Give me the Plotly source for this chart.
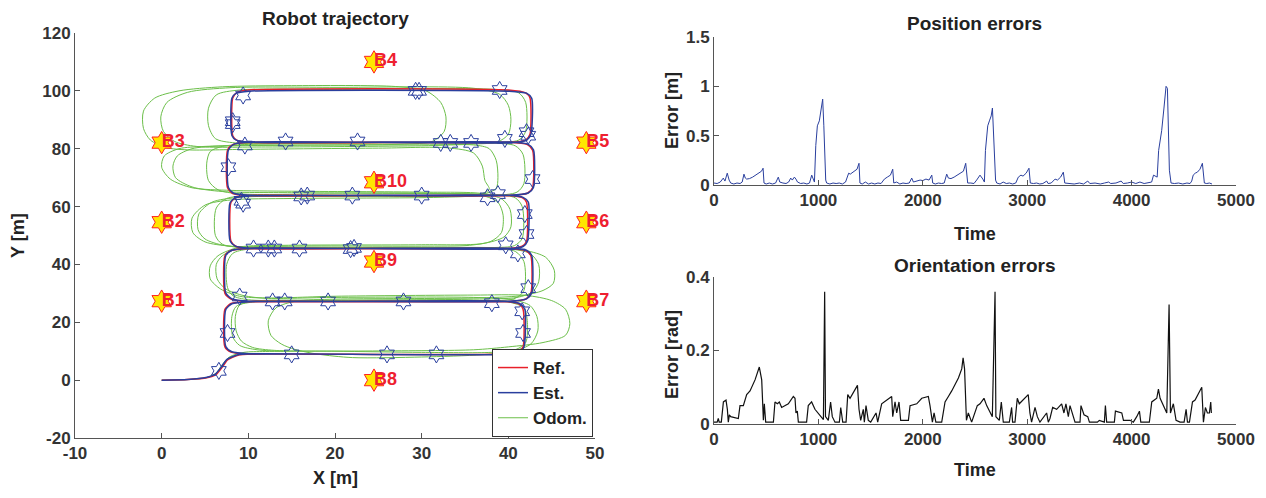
import plotly.graph_objects as go

# ---------------- data: trajectory ----------------
ref_x = [0, 3, 5.2, 6.3, 7, 7.6, 8.8, 10.5,
         39.5, 41.2, 41.7, 41.7, 41.2, 39.5,
         10, 8, 7.3, 7.3, 8, 10,
         40, 41.6, 42.1, 42.1, 41.6, 40,
         10, 8.2, 7.6, 7.6, 8.2, 10,
         40, 42, 42.5, 42.5, 42, 40,
         10, 8.7, 8.2, 8.2, 8.7, 10,
         40, 42.2, 42.8, 42.8, 42.2, 40,
         10, 8.6, 8, 8, 8.6, 10,
         40, 42, 42.6, 42.6, 42, 40,
         10, 8, 7.3, 7.3, 8, 10, 12]
ref_y = [0, 0.2, 0.8, 2, 4.5, 7, 8.6, 9,
         9, 9.8, 11.5, 24.5, 26.4, 27.2,
         27.2, 28, 30, 43, 44.8, 45.5,
         45.5, 46.3, 48, 61.5, 63.1, 63.8,
         63.8, 64.5, 66.5, 79.5, 81.4, 82.2,
         82.2, 83, 85, 97.5, 99.3, 100.3,
         100.3, 99.5, 97.5, 84.5, 82.9, 82.2,
         82.2, 81.4, 79.5, 66.5, 64.6, 63.8,
         63.8, 63.1, 61.5, 48, 46.2, 45.5,
         45.5, 44.8, 43, 30, 28, 27.2,
         27.2, 26.5, 24.5, 11.5, 9.7, 9, 9]

est_x = [0, 3, 5.1, 6.2, 6.9, 7.5, 8.7, 10.4,
         39.6, 41.3, 41.8, 41.9, 41.3, 39.6,
         10.1, 8.1, 7.4, 7.4, 8.1, 10.1,
         40.1, 41.7, 42.2, 42.3, 41.7, 40.1,
         10.1, 8.3, 7.7, 7.7, 8.3, 10.1,
         40.1, 42.1, 42.6, 42.7, 42.1, 40.1,
         10.1, 8.6, 8.1, 8.1, 8.6, 10.1,
         40.1, 42.3, 42.9, 42.9, 42.3, 40.1,
         10.1, 8.5, 7.9, 7.9, 8.5, 10.1,
         40.1, 42.1, 42.7, 42.7, 42.1, 40.1,
         10.1, 8.1, 7.4, 7.4, 8.1, 10.1, 12]
est_y = [0, 0.2, 0.9, 2.1, 4.6, 7.1, 8.7, 9.1,
         8.9, 9.7, 11.4, 24.6, 26.5, 27.3,
         27.3, 28.1, 30.1, 43.1, 44.9, 45.6,
         45.4, 46.2, 47.9, 61.6, 63.2, 63.9,
         63.9, 64.6, 66.6, 79.6, 81.5, 82.3,
         82.1, 82.9, 84.9, 97.4, 99.2, 99.9,
         99.9, 99.2, 97.4, 84.6, 83.0, 82.3,
         82.3, 81.5, 79.6, 66.6, 64.7, 63.9,
         63.7, 63.0, 61.4, 48.1, 46.3, 45.6,
         45.6, 44.9, 43.1, 30.1, 28.1, 27.3,
         27.1, 26.4, 24.4, 11.6, 9.8, 9.1, 9.1]

odom_x = [0, 3, 5.2, 6.3, 6.9, 7.8, 9.5, 12,
          25, 36, 40, 44, 46.6, 47.1, 46.6, 45, 42, 36, 20, 12,
          9, 6.8, 5.6, 5.6, 6.5, 9, 14, 30, 37,
          39.5, 40.3, 40.2, 39.3, 37, 30, 15, 8,
          3.5, 1, 0, 0.3, 2, 5, 15, 28,
          31.2, 32.6, 32.8, 32.2, 30.5, 27, 15, 7,
          2, -0.8, -2.1, -2.1, -1.3, 0.5, 3, 10, 25, 33,
          36, 37, 37.3, 37.8, 36.5, 32, 15, 8,
          5, 3.5, 3.6, 5, 8, 15, 30, 38,
          42, 44.3, 45.3, 45.2, 44, 41.5, 36, 20, 15.5,
          13.2, 12.3, 12.6, 13.8, 15.4, 18, 22, 30, 37,
          40.5, 42.6, 43.4, 43.3, 42.5, 40.5, 36, 20, 12,
          9.5, 7.4, 6.4, 6.3, 7, 9, 14, 30, 35.5,
          38, 39.2, 39.4, 38.8, 37, 32, 15, 7,
          3.5, 1.6, 1.3, 1.8, 3.5, 7, 20, 36,
          38.8, 40, 40.3, 40, 39, 36, 20, 8,
          3, 0.6, -0.1, 0.2, 1.5, 4, 12, 30, 36,
          37.8, 38.6, 38.8, 38.6, 37.3, 33, 20, 9,
          5.8, 4.3, 4.2, 5, 7.3, 12, 35, 40,
          42.5, 43.5, 43.5, 42.8, 41, 36, 20, 11,
          9, 8.5, 8.6, 9.2, 10.5, 13, 20, 30, 38,
          40.8, 42, 42.2, 41.8, 40, 35, 20, 10,
          8.2, 7.6, 7.5, 8.2, 10, 20, 38,
          40.7, 41.6, 41.6, 40.8, 38, 20, 9,
          6.5, 5.4, 5.2, 5.6, 7, 10, 25, 38,
          41.2, 42, 42, 41.2, 38.5, 20, 9,
          6.3, 5.4, 5.4, 6.2, 8.5, 20, 38,
          40.8, 41.7, 41.8, 41, 38, 20, 10,
          7.5, 6.3, 6.2, 7, 9.5, 20, 38,
          40.8, 41.8, 41.8, 40.8, 38, 20, 10.5,
          8.6, 8.1, 8.2, 9, 11, 14]
odom_y = [0, 0.2, 0.9, 2.5, 5, 8, 9.6, 9.9,
          10.1, 10.5, 11.5, 13, 15.5, 19.5, 24.5, 27.5, 29.3, 29.4, 29, 28.4,
          29, 31.5, 35, 39.5, 43, 46, 46.6, 46.8, 47.2,
          49.5, 53, 59, 62.5, 64.5, 65, 65.3, 65.6,
          66.5, 69.5, 73.6, 77.5, 80, 80.8, 81.2, 81.6,
          82.5, 86, 91, 96, 100, 101.5, 101.8, 101.4,
          100, 97.5, 93, 87, 83, 80.4, 79.6, 79.8, 80.2, 80.3,
          78.5, 74, 69, 66, 64, 63.2, 62.8, 62.3,
          60.5, 56, 51, 47.8, 46.3, 46, 45.8, 45.8,
          44.8, 42.5, 38, 33.5, 31, 29.2, 28.4, 28, 27.3,
          25, 20.5, 15.5, 12.5, 10.6, 9, 7.8, 8, 8.8,
          10, 12.5, 17, 22, 25.8, 27.8, 28.6, 28.6, 28.3,
          29.2, 31.5, 35, 40, 43, 45.6, 46.3, 46.3, 46.6,
          48, 51, 57, 61.5, 63.8, 64.6, 64.8, 65.2,
          66.8, 70, 74, 77.5, 80, 81, 81.3, 81.6,
          82.4, 85, 90, 95, 98.8, 100.9, 101.2, 101.1,
          99.5, 96, 91, 86, 82.5, 80.8, 80.6, 81, 81.3,
          80, 76, 70, 66.3, 64.5, 63.8, 63.6, 63.2,
          61.5, 57.5, 52, 48.8, 46.5, 45.8, 45.6, 45.4,
          43.8, 40, 34, 30.5, 28.6, 28, 27.6, 27.4,
          26, 22, 17, 13.5, 11.3, 10.3, 10, 9.6, 9.6,
          10.5, 13, 20, 25, 27, 27.6, 27.6, 27.8,
          29.2, 32, 40, 43.8, 45.3, 45.6, 45.8,
          46.5, 49, 60, 63, 64.2, 64.4, 64.4,
          65.8, 69, 75, 79, 80.8, 81.5, 82, 82.2,
          83, 86, 96, 99.3, 100.5, 100.5, 100.3,
          98.6, 94, 88, 83.5, 82, 82, 82,
          81, 78, 68, 65, 63.8, 63.6, 63.6,
          62.8, 59.5, 50, 47, 45.8, 45.6, 45.6,
          44.5, 41, 31, 28.3, 27.4, 27.2, 27,
          25.5, 22, 15, 12, 10.5, 10]

star_x = [6.6, 15.0, 26.0, 31.7, 7.6, 41.7, 41.6, 38.1, 12.8, 14.2, 19.2, 27.9,
          9.0, 42.3, 41.1, 39.7, 10.6, 12.3, 13.0, 15.9, 21.8, 22.2,
          42.1, 41.9, 9.2, 9.4, 16.1, 16.8, 22.0, 30.0, 37.6, 38.8,
          7.7, 42.8, 9.6, 14.3, 22.6, 32.2, 33.3, 35.7, 39.6, 42.1, 42.3,
          8.2, 8.2, 9.4, 29.3, 29.7, 39.0]
star_y = [3.2, 8.9, 8.9, 8.9, 16.3, 16.3, 23.8, 26.6, 27.2, 27.2, 27.2, 27.2,
          28.9, 31.8, 43.8, 46.6, 45.5, 45.5, 45.5, 45.5, 45.3, 45.7,
          50.5, 57.4, 62.0, 61.0, 63.5, 63.8, 63.8, 63.8, 63.2, 64.3,
          73.6, 69.5, 81.1, 82.5, 82.5, 82.0, 82.0, 82.0, 83.4, 85.7, 84.5,
          88.5, 89.5, 98.4, 100.0, 100.0, 100.3]

beacon_names = ["B1", "B2", "B3", "B4", "B5", "B6", "B7", "B8", "B9", "B10"]
beacon_x = [0, 0, 0, 24.5, 49, 49, 49, 24.5, 24.5, 24.5]
beacon_y = [27.3, 54.6, 82.1, 110, 82.1, 54.6, 27.3, 0, 41, 68.4]

traj_xticks = [-10, 0, 10, 20, 30, 40, 50]
traj_xticklabels = ["-10", "0", "10", "20", "30", "40", "50"]
traj_yticks = [-20, 0, 20, 40, 60, 80, 100, 120]
traj_yticklabels = ["-20", "0", "20", "40", "60", "80", "100", "120"]

# ---------------- data: errors ----------------
pos_t = [0, 30, 60, 89, 105, 127, 145, 160, 190, 220, 250, 270, 287, 300, 313, 340, 370, 400,
         430, 455, 470, 479, 500, 530, 560, 590, 616, 630, 660, 690, 715, 735, 750, 770, 785,
         800, 830, 860, 890, 915, 936, 950, 962, 975, 990, 1009, 1025, 1041, 1052, 1063, 1070,
         1079, 1110, 1140, 1170, 1200, 1230, 1260, 1290, 1305, 1330, 1350, 1370, 1389, 1398,
         1420, 1450, 1480, 1510, 1540, 1570, 1600, 1632, 1660, 1690, 1712, 1722, 1750, 1780,
         1810, 1840, 1870, 1894, 1910, 1940, 1974, 2000, 2030, 2060, 2086, 2095, 2120, 2150,
         2180, 2205, 2229, 2245, 2270, 2300, 2330, 2360, 2389, 2411, 2430, 2460, 2490, 2516,
         2548, 2575, 2590, 2600, 2622, 2638, 2655, 2667, 2686, 2697, 2708, 2740, 2770, 2800,
         2830, 2860, 2890, 2915, 2940, 2960, 2990, 3017, 3030, 3060, 3090, 3120, 3150, 3187,
         3200, 3230, 3267, 3290, 3320, 3346, 3360, 3400, 3450, 3500, 3540, 3580, 3600, 3650,
         3700, 3740, 3780, 3800, 3850, 3900, 3920, 3960, 4000, 4040, 4080, 4120, 4160, 4192,
         4210, 4230, 4245, 4259, 4288, 4310, 4330, 4343, 4362, 4378, 4410, 4450, 4490, 4530,
         4560, 4576, 4590, 4610, 4630, 4655, 4678, 4697, 4720, 4745, 4770]
pos_err = [0.02, 0.015, 0.03, 0.07, 0.04, 0.12, 0.05, 0.02, 0.01, 0.02, 0.015, 0.03, 0.11, 0.07,
           0.06, 0.065, 0.08, 0.1, 0.12, 0.14, 0.17, 0.02, 0.01, 0.02, 0.01, 0.02, 0.08, 0.03,
           0.02, 0.015, 0.03, 0.07, 0.05, 0.08, 0.06, 0.03, 0.015, 0.02, 0.01, 0.02, 0.1, 0.05,
           0.03, 0.4, 0.6, 0.65, 0.75, 0.87, 0.6, 0.2, 0.05, 0.02, 0.01, 0.02, 0.015, 0.02, 0.01,
           0.03, 0.12, 0.11, 0.13, 0.14, 0.16, 0.22, 0.02, 0.01, 0.03, 0.01, 0.02, 0.01, 0.02,
           0.015, 0.06, 0.08, 0.1, 0.16, 0.02, 0.03, 0.01, 0.02, 0.015, 0.02, 0.07, 0.03, 0.04,
           0.05, 0.045, 0.06, 0.05, 0.1, 0.02, 0.01, 0.02, 0.015, 0.02, 0.11, 0.07, 0.065, 0.08,
           0.1, 0.12, 0.14, 0.22, 0.02, 0.02, 0.015, 0.05, 0.1, 0.06, 0.03, 0.35, 0.6, 0.65,
           0.7, 0.78, 0.18, 0.05, 0.02, 0.01, 0.03, 0.015, 0.02, 0.01, 0.02, 0.08, 0.1, 0.09,
           0.12, 0.17, 0.02, 0.015, 0.02, 0.01, 0.015, 0.04, 0.015, 0.02, 0.06, 0.05, 0.08, 0.13,
           0.02, 0.015, 0.01, 0.02, 0.01, 0.04, 0.015, 0.02, 0.01, 0.02, 0.03, 0.015, 0.02, 0.04,
           0.015, 0.02, 0.03, 0.015, 0.03, 0.015, 0.02, 0.03, 0.1, 0.09, 0.08, 0.35, 0.55, 0.78,
           1.0, 0.98, 0.15, 0.02, 0.015, 0.02, 0.01, 0.02, 0.015, 0.04, 0.1, 0.12, 0.13, 0.16,
           0.22, 0.02, 0.015, 0.02, 0.01]

ori_t = [0, 30, 41, 50, 70, 90, 115, 128, 137, 147, 160, 233, 249, 281, 313, 345, 393, 434, 457,
         473, 482, 495, 569, 584, 607, 626, 648, 712, 760, 776, 785, 798, 808, 887, 903, 935, 967,
         1015, 1048, 1060, 1068, 1095, 1117, 1133, 1159, 1201, 1214, 1233, 1265, 1281, 1303, 1374,
         1389, 1405, 1430, 1440, 1456, 1478, 1501, 1552, 1568, 1606, 1654, 1702, 1712, 1734, 1750,
         1772, 1788, 1862, 1878, 1942, 1990, 2053, 2069, 2092, 2108, 2125, 2181, 2213, 2245, 2277,
         2341, 2373, 2386, 2400, 2418, 2436, 2468, 2522, 2548, 2586, 2612, 2666, 2692, 2700, 2733,
         2752, 2771, 2829, 2851, 2860, 2883, 2905, 2924, 3010, 3026, 3042, 3075, 3097, 3122, 3186,
         3202, 3218, 3244, 3282, 3330, 3352, 3371, 3394, 3410, 3442, 3458, 3506, 3515, 3544, 3580,
         3596, 3672, 3691, 3739, 3749, 3761, 3835, 3845, 3906, 3922, 3985, 4017, 4049, 4075, 4088,
         4170, 4193, 4241, 4257, 4273, 4337, 4359, 4372, 4400, 4426, 4464, 4503, 4522, 4535, 4554,
         4583, 4608, 4672, 4688, 4707, 4726, 4745, 4758, 4764]
ori_err = [0.005, 0.005, 0.015, 0.005, 0.005, 0.06, 0.065, 0.04, 0.005, 0.025, 0.02, 0.015, 0.05,
           0.05, 0.08, 0.09, 0.12, 0.155, 0.12, 0.01, 0.055, 0.005, 0.005, 0.06, 0.055, 0.06, 0.045,
           0.055, 0.075, 0.07, 0.03, 0.035, 0.005, 0.005, 0.05, 0.06, 0.04, 0.025, 0.012, 0.36,
           0.02, 0.01, 0.06, 0.02, 0.005, 0.005, 0.045, 0.005, 0.005, 0.08, 0.07, 0.105, 0.04,
           0.01, 0.04, 0.005, 0.05, 0.01, 0.005, 0.03, 0.005, 0.055, 0.065, 0.075, 0.02, 0.06,
           0.03, 0.06, 0.01, 0.01, 0.05, 0.055, 0.07, 0.075, 0.05, 0.005, 0.03, 0.005, 0.005,
           0.06, 0.075, 0.09, 0.125, 0.15, 0.18, 0.15, 0.01, 0.03, 0.005, 0.05, 0.055, 0.07,
           0.05, 0.02, 0.36, 0.02, 0.01, 0.06, 0.005, 0.005, 0.045, 0.005, 0.005, 0.07, 0.055,
           0.08, 0.03, 0.005, 0.045, 0.02, 0.005, 0.03, 0.005, 0.015, 0.045, 0.04, 0.055, 0.03,
           0.055, 0.02, 0.05, 0.02, 0.005, 0.005, 0.05, 0.025, 0.02, 0.005, 0.005, 0.01, 0.005,
           0.05, 0.005, 0.005, 0.035, 0.03, 0.01, 0.01, 0.005, 0.02, 0.035, 0.005, 0.005, 0.06,
           0.07, 0.095, 0.07, 0.03, 0.325, 0.03, 0.055, 0.01, 0.005, 0.005, 0.04, 0.005, 0.005,
           0.06, 0.065, 0.1, 0.005, 0.045, 0.03, 0.03, 0.06, 0.03]

# ---------------- styles ----------------
FONT = "Liberation Sans, Arial, sans-serif"
AX = "#555555"
TXT = "#333333"
RED = "#E8202A"
BLUE = "#2A3F9E"
GREEN = "#6CBF4A"

# the page adds an 8px body margin; the figure is sized to fit inside it
W, H, OFF = 1250, 482, 8


def px_x(p):
    return (p - OFF) / W


def px_y(p):
    return 1 - (p - OFF) / H


fig = go.Figure()

fig.add_trace(go.Scatter(x=odom_x, y=odom_y, mode="lines", name="Odom.",
                         line=dict(color=GREEN, width=1, shape="spline", smoothing=0.8),
                         xaxis="x", yaxis="y", legendrank=3))
fig.add_trace(go.Scatter(x=ref_x, y=ref_y, mode="lines", name="Ref.",
                         line=dict(color=RED, width=1.5, shape="spline", smoothing=0.6),
                         xaxis="x", yaxis="y", legendrank=1))
fig.add_trace(go.Scatter(x=est_x, y=est_y, mode="lines", name="Est.",
                         line=dict(color=BLUE, width=1.5, shape="spline", smoothing=0.6),
                         xaxis="x", yaxis="y", legendrank=2))
fig.add_trace(go.Scatter(x=star_x, y=star_y, mode="markers", showlegend=False,
                         marker=dict(symbol="hexagram-open", size=13, color=BLUE,
                                     line=dict(color=BLUE, width=1)),
                         xaxis="x", yaxis="y"))
fig.add_trace(go.Scatter(x=beacon_x, y=beacon_y, mode="markers", showlegend=False,
                         cliponaxis=False,
                         marker=dict(symbol="hexagram", size=17, color="#FFE600",
                                     line=dict(color="#FF2020", width=1)),
                         xaxis="x", yaxis="y"))
fig.add_trace(go.Scatter(x=beacon_x, y=beacon_y, mode="text", text=beacon_names,
                         textposition="middle right", showlegend=False, cliponaxis=False,
                         textfont=dict(family=FONT, size=18, color="#EE2030", weight="bold"),
                         xaxis="x", yaxis="y"))

fig.add_trace(go.Scatter(x=pos_t, y=pos_err, mode="lines", showlegend=False,
                         line=dict(color=BLUE, width=1), xaxis="x2", yaxis="y2"))
fig.add_trace(go.Scatter(x=ori_t, y=ori_err, mode="lines", showlegend=False,
                         line=dict(color="#111111", width=1.2), xaxis="x3", yaxis="y3"))

axis_common = dict(showline=True, linecolor=AX, linewidth=1, ticks="inside", ticklen=5,
                   tickcolor=AX, showgrid=False, zeroline=False, mirror=False,
                   automargin=False,
                   tickfont=dict(family=FONT, size=17, color=TXT, weight="bold"))

fig.update_layout(
    template="none",
    width=W, height=H, margin=dict(l=0, r=0, t=0, b=0, autoexpand=False),
    paper_bgcolor="white", plot_bgcolor="white",
    font=dict(family=FONT, color=TXT),
    xaxis=dict(domain=[px_x(75), px_x(595)], range=[-10, 50], tickvals=traj_xticks,
               ticktext=traj_xticklabels, anchor="y", **axis_common),
    yaxis=dict(domain=[px_y(438), px_y(33)], range=[-20, 120], tickvals=traj_yticks,
               ticktext=traj_yticklabels, anchor="x", **axis_common),
    xaxis2=dict(domain=[px_x(714), px_x(1236)], range=[0, 5000], dtick=1000, anchor="y2",
                **axis_common),
    yaxis2=dict(domain=[px_y(185), px_y(37)], range=[0, 1.5], dtick=0.5, anchor="x2",
                **axis_common),
    xaxis3=dict(domain=[px_x(714), px_x(1236)], range=[0, 5000], dtick=1000, anchor="y3",
                **axis_common),
    yaxis3=dict(domain=[px_y(424), px_y(277)], range=[0, 0.4], dtick=0.2, anchor="x3",
                **axis_common),
    legend=dict(x=px_x(593), y=px_y(437), xanchor="right", yanchor="bottom",
                bgcolor="white", bordercolor="#333333", borderwidth=1,
                font=dict(family=FONT, size=17, color="#222222", weight="bold"),
                itemwidth=30, tracegroupgap=0),
)


def ann(text, x, y, size=18, angle=0, yanchor="middle"):
    fig.add_annotation(text=text, x=px_x(x), y=max(px_y(y), 0.0),
                       xref="paper", yref="paper", showarrow=False, textangle=angle,
                       font=dict(family=FONT, size=size, color="#222222", weight="bold"),
                       xanchor="center", yanchor=yanchor)


ann("Robot trajectory", 335, 18, size=19)
ann("X [m]", 335, 490, yanchor="bottom")
ann("Y [m]", 18, 236, angle=-90)
ann("Position errors", 975, 24, size=19)
ann("Time", 975, 234)
ann("Error [m]", 672, 111, angle=-90)
ann("Orientation errors", 975, 265, size=19)
ann("Time", 975, 470)
ann("Error [rad]", 672, 355, angle=-90)

fig.write_html("out.html")
